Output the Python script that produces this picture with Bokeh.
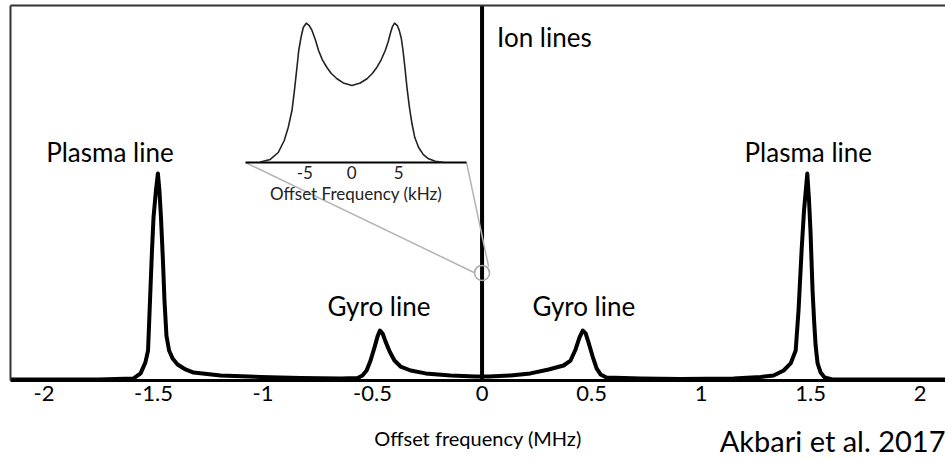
from bokeh.plotting import figure
from bokeh.models import Range1d, LinearAxis, FixedTicker
from bokeh.embed import file_html
from bokeh.resources import INLINE
from bokeh.core.properties import value

# Incoherent scatter spectrum: offset frequency (MHz) vs. relative power
spec_mhz = [
    -2.20, -1.75, -1.591, -1.559, -1.537, -1.525, -1.516, -1.507, -1.500, -1.489, -1.480,
    -1.473, -1.466, -1.457, -1.450, -1.441, -1.429, -1.413, -1.390, -1.354, -1.317, -1.194, -1.011, -0.829,
    -0.646, -0.568, -0.546, -0.527, -0.509, -0.491, -0.477, -0.466,
    -0.454, -0.441, -0.422, -0.400, -0.372, -0.326, -0.258, -0.144, -0.030, 0.0,
    0.030, 0.130, 0.221, 0.304, 0.372, 0.404, 0.427, 0.445, 0.460,
    0.473, 0.486, 0.505, 0.523, 0.541, 0.568, 0.724,
    0.906, 1.148, 1.272, 1.331, 1.377, 1.409, 1.432, 1.445, 1.459, 1.470, 1.485,
    1.493, 1.500, 1.509, 1.516, 1.523, 1.532, 1.546, 1.564, 1.600, 2.20,
]
spec_power = [
    0.005, 0.005, 0.010, 0.034, 0.087, 0.144, 0.385, 0.625, 0.784, 0.913, 0.995,
    0.913, 0.784, 0.577, 0.385, 0.216, 0.144, 0.106, 0.077, 0.053, 0.038, 0.024, 0.017, 0.012,
    0.010, 0.012, 0.024, 0.048, 0.096, 0.159, 0.212, 0.240,
    0.226, 0.188, 0.139, 0.096, 0.067, 0.048, 0.034, 0.024, 0.019, 0.019,
    0.019, 0.024, 0.034, 0.053, 0.072, 0.096, 0.149, 0.207, 0.240,
    0.226, 0.183, 0.115, 0.058, 0.029, 0.014, 0.010,
    0.007, 0.010, 0.017, 0.024, 0.048, 0.082, 0.144, 0.337, 0.625, 0.817, 0.995,
    0.865, 0.707, 0.433, 0.288, 0.168, 0.082, 0.038, 0.014, 0.005, 0.005,
]

# The ion line is far narrower and taller than the plot: a vertical stroke at 0 MHz
ion_mhz = [0.0, 0.0]
ion_power = [0.0, 2.0]

# Ion line seen up close (inset): offset frequency (kHz) vs. level relative to its peaks
ion_khz = [
    -9.73, -8.67, -7.82, -7.18, -6.76, -6.36, -6.12, -5.83, -5.64, -5.40, -5.16, -4.84,
    -4.52, -4.23, -3.88, -3.53, -3.14, -2.64, -2.18, -1.57, -0.90, 0.02,
    0.90, 1.62, 2.18, 2.68, 3.14, 3.56, 3.88, 4.10, 4.31, 4.55,
    4.84, 5.05, 5.27, 5.45, 5.64, 5.87, 6.12, 6.40, 6.70, 7.11, 7.61, 8.17, 8.88, 9.73,
]
ion_level = [
    0.004, 0.022, 0.072, 0.158, 0.251, 0.373, 0.503, 0.682, 0.804, 0.897, 0.969, 1.0,
    0.983, 0.948, 0.883, 0.804, 0.739, 0.682, 0.639, 0.601, 0.571, 0.553,
    0.571, 0.601, 0.639, 0.684, 0.739, 0.804, 0.869, 0.926, 0.973, 1.0,
    0.983, 0.948, 0.890, 0.804, 0.689, 0.538, 0.402, 0.280, 0.179, 0.108, 0.057, 0.027, 0.009, 0.002,
]

tick_mhz = [-2, -1.5, -1, -0.5, 0, 0.5, 1, 1.5, 2]
tick_labels = ["-2", "-1.5", "-1", "-0.5", "0", "0.5", "1", "1.5", "2"]
inset_tick_khz = [-5, 0, 5]
inset_tick_labels = ["-5", "0", "5"]

# Named spectral features and where their peaks sit
feature_names = ["Plasma line", "Gyro line", "Gyro line", "Plasma line"]
feature_mhz = [-1.480, -0.466, 0.460, 1.485]
feature_power = [0.995, 0.240, 0.240, 0.995]

# ---- layout ----
XMIN, XMAX = -2.153, 2.116
YMIN, YMAX = -0.380, 1.803     # room under the baseline for the axis texts
FONT = "Lato"

# inset box placement in main-plot coordinates, and its own kHz extent
INSET_L, INSET_R = -1.080, -0.071
INSET_BASE, INSET_UNIT = 1.048, 0.670
KMIN, KMAX = -11.3, 12.2
# magnifier circle on the ion line
ZOOM_X, ZOOM_Y = 0.0, 0.517


def khz_at(mhz):
    return KMIN + (mhz - INSET_L) * (KMAX - KMIN) / (INSET_R - INSET_L)


p = figure(
    width=945, height=459,
    x_range=Range1d(XMIN, XMAX), y_range=Range1d(YMIN, YMAX),
    output_backend="svg", toolbar_location=None,
    y_axis_location=None,
    min_border_left=10, min_border_right=0, min_border_top=5, min_border_bottom=0,
)
p.grid.visible = False
p.outline_line_color = None
p.background_fill_color = "white"
p.border_fill_color = "white"

p.extra_x_ranges = {"khz": Range1d(khz_at(XMIN), khz_at(XMAX))}
p.extra_y_ranges = {"inset": Range1d((YMIN - INSET_BASE) / INSET_UNIT, (YMAX - INSET_BASE) / INSET_UNIT)}

# frequency axis sitting on the zero-power baseline
xa = p.xaxis[0]
xa.fixed_location = 0
xa.ticker = FixedTicker(ticks=tick_mhz)
xa.major_label_overrides = {t: s for t, s in zip(tick_mhz, tick_labels)}
xa.axis_line_width = 3
xa.axis_line_color = "black"
xa.major_tick_line_color = None
xa.minor_tick_line_color = None
xa.major_tick_out = 0
xa.major_tick_in = 0
xa.major_label_standoff = 6
xa.major_label_text_font = FONT
xa.major_label_text_font_size = "22px"
xa.major_label_text_color = "black"
xa.axis_label = "Offset frequency (MHz)"
xa.axis_label_text_font = FONT
xa.axis_label_text_font_style = "normal"
xa.axis_label_text_font_size = "20px"
xa.axis_label_text_color = "black"
xa.axis_label_standoff = 21

# plain frame lines on the left and top
p.add_layout(LinearAxis(ticker=FixedTicker(ticks=[]), bounds=(0, YMAX),
                        axis_line_width=2, axis_line_color="#333333",
                        major_tick_line_color=None, minor_tick_line_color=None,
                        major_tick_out=0, major_tick_in=0, major_label_standoff=0), "left")
p.add_layout(LinearAxis(ticker=FixedTicker(ticks=[]),
                        axis_line_width=2, axis_line_color="#333333",
                        major_tick_line_color=None, minor_tick_line_color=None,
                        major_tick_out=0, major_tick_in=0, major_label_standoff=0), "above")

# spectrum
p.line(spec_mhz, spec_power, line_color="black", line_width=4, line_join="round")
p.line(ion_mhz, ion_power, line_color="black", line_width=4)

# magnifier and connector lines to the inset
p.scatter([ZOOM_X], [ZOOM_Y], size=15, fill_color=None, line_color="#a8a8a8", line_width=1.5)
p.segment(x0=[INSET_L, INSET_R], y0=[INSET_BASE, INSET_BASE],
          x1=[ZOOM_X - 0.032, ZOOM_X + 0.03], y1=[ZOOM_Y, ZOOM_Y + 0.03],
          line_color="#b4b4b4", line_width=1.5)

# inset
p.line([KMIN, KMAX], [0, 0], x_range_name="khz", y_range_name="inset",
       line_color="black", line_width=1.8)
p.line(ion_khz, ion_level, x_range_name="khz", y_range_name="inset",
       line_color="#222222", line_width=1.6, line_join="round")
p.text(x=inset_tick_khz, y=[0] * len(inset_tick_khz), text=inset_tick_labels,
       x_range_name="khz", y_range_name="inset", y_offset=3,
       text_align="center", text_baseline="top",
       text_font=value(FONT), text_font_size="17px", text_color="#222222")
p.text(x=[(KMIN + KMAX) / 2], y=[0], text=["Offset Frequency (kHz)"],
       x_range_name="khz", y_range_name="inset", y_offset=20,
       text_align="center", text_baseline="top",
       text_font=value(FONT), text_font_size="17px", text_color="#222222")

# feature labels
p.text(x=feature_mhz, y=feature_power, text=feature_names,
       x_offset=[-48, -1, 1, 1], y_offset=[-6, -9, -9, -6],
       text_align="center", text_baseline="bottom",
       text_font=value(FONT), text_font_size="26px", text_color="black")
p.text(x=[ZOOM_X], y=[YMAX], text=["Ion lines"], x_offset=15, y_offset=31,
       text_align="left", text_baseline="middle",
       text_font=value(FONT), text_font_size="26px", text_color="black")

# source note, bottom right
p.text(x=[XMAX], y=[0], text=["Akbari et al. 2017"], y_offset=60,
       text_align="right", text_baseline="middle",
       text_font=value(FONT), text_font_size="29px", text_color="black")

open("out.html", "w").write(file_html(p, INLINE))
